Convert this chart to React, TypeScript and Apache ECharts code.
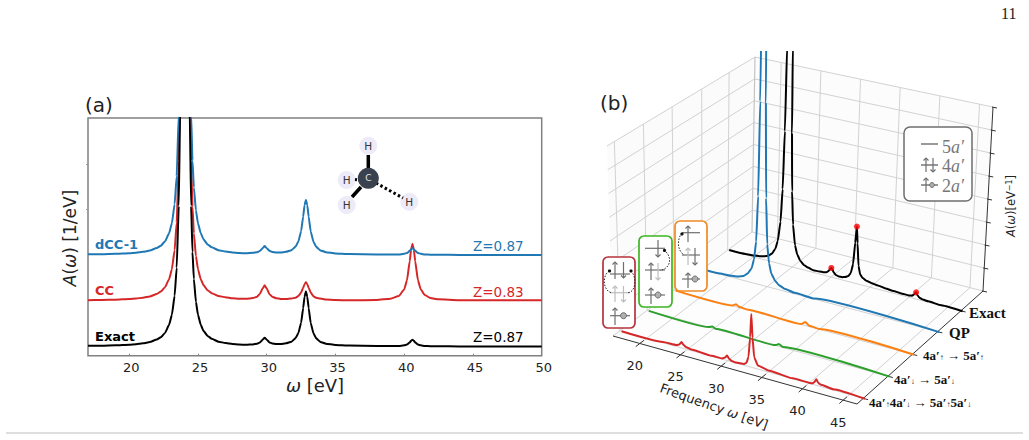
import React, { useEffect, useRef } from "react";
import * as echarts from "echarts";

// ---------- panel (a) data ----------
const omega = [17,18,19,20,20.5,21,21.5,22,22.3,22.6,22.9,23.1,23.3,23.45,23.6,23.7,23.8,24.05,24.3,24.4,24.5,24.6,24.7,24.85,25,25.2,25.4,25.7,26,26.5,27,27.5,28,28.5,29,29.3,29.5,29.7,29.85,30,30.2,30.4,30.7,31,31.4,31.8,32.1,32.3,32.5,32.65,32.75,32.85,32.95,33.05,33.2,33.4,33.6,33.9,34.3,35,36,38,39,39.6,40,40.2,40.4,40.5,40.6,40.7,40.8,41,41.2,41.5,41.9,42.5,44,50];
const exactA = [4.14,4.23,4.37,4.63,4.85,5.2,5.75,6.8,7.8,9.6,
  13,17.2,25.2,37,63,102,196,300,196,102,
  63,43.6,32.3,22.7,17.2,13,10.5,8.3,7.1,5.9,
  5.3,4.9,4.7,4.6,4.76,5.05,5.55,6.7,7.6,6.75,
  5.6,5.15,4.9,4.9,5.2,5.9,7.4,9.5,13.9,20,
  24.8,27.1,24.8,20,13.8,9.4,7.3,5.8,5.05,4.5,
  4.25,4.05,4.05,4.1,4.35,4.7,5.6,6.3,6.7,6.3,
  5.6,4.7,4.35,4.1,4,3.95,3.9,3.85];
const ccA = [23.35,23.45,23.55,23.85,24.05,24.4,24.95,25.95,27,28.8,
  32.2,36.4,44.4,56,82,121,215,320,215,121,
  82,62.8,51.5,41.9,36.4,32.2,29.7,27.5,26.3,25.1,
  24.6,24.15,24,23.95,24.25,24.85,26,28.3,29.6,28.3,
  25.9,24.8,24.15,23.9,23.85,24.05,24.4,25.1,26.55,28.55,
  30.1,30.85,30.1,28.55,26.55,25,24.35,24.05,23.6,23.4,
  23.3,23.45,23.95,25.1,27.9,31.7,39.7,44.7,47.1,44.7,
  39.7,31.7,27.9,25.5,24.3,23.7,23.35,23.3];
const dccA = [42.64,42.73,42.87,43.13,43.35,43.7,44.25,45.3,46.3,48.1,
  51.5,55.7,63.7,75.5,101.5,140,234,340,234,140,
  101.5,82.1,70.8,61.2,55.7,51.5,49,46.8,45.6,44.4,
  43.8,43.4,43.2,43.1,43.26,43.55,44.05,45.2,46.1,45.25,
  44.1,43.65,43.4,43.4,43.7,44.4,45.9,48,52.4,58.5,
  63.3,65.6,63.3,58.5,52.3,47.9,45.8,44.3,43.55,43,
  42.75,42.55,42.55,42.6,42.85,43.2,44.1,44.8,45.2,44.8,
  44.1,43.2,42.85,42.6,42.5,42.45,42.4,42.35];
const xTickLabels = [20,25,30,35,40,45,50];
const yFaintTicks = [61.7,80.6];

// ---------- panel (b) data: [frequency, amplitude] ----------
const exactB = [[16.9,.003],[19,.005],[20,.008],[20.8,.013],[21.4,.019],[21.9,.028],[22.4,.046],[22.8,.077],[23.1,.124],[23.4,.234],[23.6,.417],[23.75,.74],[23.85,1.22],[24.2,3],[24.55,1.22],[24.65,.74],[24.8,.417],[25,.234],[25.3,.124],[25.6,.077],[26,.046],[26.5,.028],[27,.019],[27.7,.012],[28.5,.014],[29,.016],[29.4,.02],[29.7,.032],[29.85,.043],[30,.05],[30.15,.043],[30.3,.03],[30.6,.018],[31,.014],[31.4,.015],[31.8,.02],[32.2,.03],[32.5,.05],[32.75,.1],[32.95,.22],[33.1,.31],[33.25,.22],[33.45,.1],[33.7,.055],[34,.04],[34.5,.03],[35.2,.024],[36,.02],[37,.015],[38,.012],[39,.01],[40,.01],[40.4,.013],[40.65,.022],[40.9,.036],[41.1,.022],[41.35,.012],[41.8,.007],[42.5,.005],[44,.002],[46.9,0]];
const qpB = [[16.9,.002],[19,.004],[20.5,.008],[21.3,.014],[22,.025],[22.5,.043],[23,.077],[23.3,.13],[23.55,.23],[23.75,.48],[23.9,1.0],[24,1.9],[24.25,3],[24.5,1.9],[24.6,1.0],[24.75,.48],[24.95,.23],[25.2,.13],[25.5,.077],[26,.043],[26.5,.025],[27.2,.014],[28.5,.006],[31,.003],[46.9,0]];
const upB = [[16.9,0],[24,.002],[24.5,.014],[24.9,.004],[26,.002],[32.7,.002],[33.2,.018],[33.7,.004],[35,.002],[46.9,0]];
const downB = [[16.9,0],[24.4,.001],[24.8,.009],[25.2,.002],[32.7,.002],[33.1,.012],[33.6,.003],[46.9,0]];
const doubleB = [[16.9,0],[22,.004],[23.7,.008],[24,.014],[24.3,.03],[24.55,.018],[24.9,.01],[25.5,.006],[28,.002],[29.3,.004],[29.65,.012],[29.9,.026],[30.15,.012],[30.5,.004],[31,.002],[32,.006],[32.3,.016],[32.55,.05],[32.75,.15],[32.9,.27],[33.05,.15],[33.25,.055],[33.7,.018],[35,.008],[38,.002],[40.4,.004],[40.65,.012],[40.9,.03],[41.15,.014],[41.5,.009],[43,.004],[46.9,0]];
const exactDots = [[30,.05],[33.1,.31],[40.9,.036]];
const freqTicks = [20,25,30,35,40,45];
const depthLevels = [0.05,0.246,0.44,0.64,0.825];
const zLevels = [0,.125,.25,.375,.5,.625,.75,.875,1];

// 3D projection, from axis values to page pixels
const F0 = 16.7, F1 = 46.7;
const A = [613,336], B = [857,404], C = [983,291], D = [752,232];
const At = [607,146], Bt = [861,199], Ct = [993,107], Dt = [755,57];
const lerp = (p: number[], q: number[], t: number) => [p[0]+(q[0]-p[0])*t, p[1]+(q[1]-p[1])*t];
function proj(f: number, d: number, z: number) {
  const t = (f-F0)/(F1-F0);
  const lo = lerp(lerp(A,B,t), lerp(D,C,t), d);
  const hi = lerp(lerp(At,Bt,t), lerp(Dt,Ct,t), d);
  return lerp(lo,hi,z);
}

const GRID = "#d2d2d2";
function segLine(a: number[], b: number[], color = GRID, width = 1, z = 1) {
  return { type: "line", xAxisIndex: 1, yAxisIndex: 1, data: [a,b], symbol: "none", silent: true, z,
    lineStyle: { color, width }, clip: false, animation: false };
}
function curve(pts: number[][], d: number, color: string, z: number) {
  return { type: "line", xAxisIndex: 1, yAxisIndex: 1, symbol: "none", z, clip: true, smooth: 0.15, smoothMonotone: "x",
    data: pts.map(([f,a]) => proj(f,d,a)), lineStyle: { color, width: 2 } };
}

// glyph helpers
const G = "#6e6e6e", L = "#bdbdbd";
const seg = (x1:number,y1:number,x2:number,y2:number,stroke=G,lineWidth=1.2,extra:any={}) =>
  ({ type:"line", z:20, shape:{x1,y1,x2,y2}, style:{stroke,lineWidth,...extra} });
const arrow = (x:number,y1:number,y2:number,stroke=G,h=2.5) => [
  seg(x,y1,x,y2,stroke),
  { type:"polyline", z:20, shape:{points:[[x-h,y2-Math.sign(y2-y1)*h],[x,y2],[x+h,y2-Math.sign(y2-y1)*h]]}, style:{stroke,lineWidth:1.2,fill:"none"} },
];
const hole = (x:number,y:number,r=3) => ({ type:"circle", z:21, shape:{cx:x,cy:y,r}, style:{fill:"#b0b0b0",stroke:G,lineWidth:1} });
const box = (x:number,y:number,width:number,height:number,stroke:string,r=5,lineWidth=1.7) =>
  ({ type:"rect", z:15, shape:{x,y,width,height,r}, style:{fill:"#fff",stroke,lineWidth} });
const dotted = (x1:number,y1:number,c1:number[],c2:number[],x2:number,y2:number) =>
  ({ type:"bezierCurve", z:22, shape:{x1,y1,x2,y2,cpx1:c1[0],cpy1:c1[1],cpx2:c2[0],cpy2:c2[1]}, style:{stroke:"#222",lineWidth:1,lineDash:[1.5,1.5],fill:"none"} });
const head = (x:number,y:number) => ({ type:"circle", z:22, shape:{cx:x,cy:y,r:1.6}, style:{fill:"#111"} });
const txt = (text:string,x:number,y:number,fontSize:number,fill:string,extra:any={}) => {
  const { rotation, z, ...style } = extra;
  return { type:"text", x, y, rotation: rotation||0, z: z||30,
    style:{ text, fontSize, fill, fontFamily:"DejaVu Sans", align:"left", verticalAlign:"middle", ...style } };
};
const SERIF = "Liberation Serif";
const subRich = {
  b:{ fontFamily:SERIF, fontWeight:"bold", fontSize:13, fill:"#111" },
  s:{ fontFamily:SERIF, fontWeight:"bold", fontSize:8, fill:"#111", verticalAlign:"bottom", padding:[5,0,0,0] },
};
const LINE_A = 2;
const smoothA = { symbol:"none", smooth:0.15, smoothMonotone:"x" };

function buildOption() {
  const series: any[] = [
    { type:"line", data: omega.map((x,i)=>[x,ccA[i]]), ...smoothA, lineStyle:{color:"#d62728",width:LINE_A}, z:3 },
    { type:"line", data: omega.map((x,i)=>[x,dccA[i]]), ...smoothA, lineStyle:{color:"#1f77b4",width:LINE_A}, z:4 },
    { type:"line", data: omega.map((x,i)=>[x,exactA[i]]), ...smoothA, lineStyle:{color:"#000",width:LINE_A}, z:5 },
  ];
  // panes' grid lines
  for (const z of zLevels) {
    series.push(segLine(proj(F0,1,z), proj(F1,1,z)));
    series.push(segLine(proj(F0,0,z), proj(F0,1,z)));
  }
  for (const f of freqTicks) {
    series.push(segLine(proj(f,1,0), proj(f,1,1)));
    series.push(segLine(proj(f,0,0), proj(f,1,0)));
  }
  for (const d of depthLevels) {
    series.push(segLine(proj(F0,d,0), proj(F0,d,1)));
    series.push(segLine(proj(F0,d,0), proj(F1,d,0)));
  }
  series.push(segLine(proj(F0,1,0), proj(F0,1,1), "#c4c4c4", 1.2));
  // axes of the box
  series.push(segLine(proj(F0,0,0), proj(F1,0,0), "#333", 1, 2));
  series.push(segLine(proj(F1,0,0), proj(F1,1,0), "#333", 1, 2));
  series.push(segLine(proj(F1,1,0), proj(F1,1,1), "#333", 1, 2));
  for (const f of freqTicks) series.push(segLine(proj(f,-0.03,0), proj(f,0.03,0), "#333", 1, 2));
  for (const d of depthLevels) series.push(segLine(proj(F1,d,0), proj(F1+0.6,d,0), "#333", 1, 2));
  for (const z of zLevels) {
    const p = proj(F1,1,z);
    series.push(segLine([p[0]-1,p[1]], [p[0]+4,p[1]+1], "#333", 1, 2));
  }
  // curves back to front
  series.push(curve(exactB, depthLevels[4], "#000", 6));
  series.push(curve(qpB, depthLevels[3], "#1f77b4", 7));
  series.push(curve(upB, depthLevels[2], "#ff7f0e", 8));
  series.push(curve(downB, depthLevels[1], "#2ca02c", 9));
  series.push(curve(doubleB, depthLevels[0], "#d62728", 10));
  series.push({ type:"scatter", xAxisIndex:1, yAxisIndex:1, z:11, symbolSize:6,
    itemStyle:{color:"#ff0000"}, data: exactDots.map(([f,a])=>proj(f,depthLevels[4],a)) });

  const floorPts = [A,B,C,D];
  const graphic: any[] = [
    { type:"polygon", z:0, shape:{points:[A,D,Dt,At]}, style:{fill:"#fbfbfb"} },
    { type:"polygon", z:0, shape:{points:[D,C,Ct,Dt]}, style:{fill:"#fcfcfc"} },
    { type:"polygon", z:0, shape:{points:floorPts}, style:{fill:"#fdfdfd"} },
    // page furniture
    txt("11", 1001, 13, 16, "#222", { fontFamily:SERIF }),
    seg(6,433,1023,433,"#bdbdbd",1.2),
    // panel (a) texts
    txt("(a)", 85, 105, 20, "#222"),
    txt("{i|ω} [eV]", 315, 385, 18, "#222", { align:"center", rich:{ i:{ fontStyle:"italic", fontSize:18, fill:"#222", fontFamily:"DejaVu Sans" } } }),
    txt("{i|A}({i|ω}) [1/eV]", 70, 238, 17, "#222", { align:"center", rotation:Math.PI/2, rich:{ i:{ fontStyle:"italic", fontSize:17, fill:"#222", fontFamily:"DejaVu Sans" } } }),
    txt("dCC-1", 95, 244, 13, "#1f77b4", { fontWeight:"bold" }),
    txt("CC", 95, 290, 13, "#d62728", { fontWeight:"bold" }),
    txt("Exact", 95, 336, 13, "#000", { fontWeight:"bold" }),
    txt("Z=0.87", 473, 246, 13.5, "#1f77b4"),
    txt("Z=0.83", 473, 292, 13.5, "#d62728"),
    txt("Z=0.87", 473, 337, 13.5, "#000"),
    // molecule
    seg(361,187,352,197,"#000",3.5),
    seg(376,183,403,198,"#000",3,{lineDash:[2.5,2.5]}),
    seg(355,179.5,360,180,"#000",3,{lineDash:[2,1.5]}),
    ...[[368.3,145.7],[346.7,180],[346.7,205],[409.3,201.7]].flatMap(([x,y]) => [
      { type:"circle", z:19, shape:{cx:x,cy:y,r:9}, style:{fill:"#edebf7"} },
      txt("H", x, y, 10.5, "#333", { align:"center", z:23 }),
    ]),
    seg(368.3,155,368.3,170,"#000",3.5),
    { type:"circle", z:21, shape:{cx:368.3,cy:178.3,r:10.5}, style:{fill:"#39424e"} },
    txt("C", 368.3, 178.3, 9, "#e6e6e6", { align:"center", z:23 }),
    // panel (b) texts
    txt("(b)", 600, 103, 20, "#222"),
    ...freqTicks.map(t => { const p = proj(t,0,0); return txt(String(t), p[0]-5, p[1]+22, 13, "#222", { align:"center" }); }),
    txt("Frequency {i|ω} [eV]", 714, 406.5, 13, "#222", { align:"center", rotation:-0.34, rich:{ i:{ fontStyle:"italic", fontSize:13, fill:"#222", fontFamily:"DejaVu Sans" } } }),
    txt("{i|A}({i|ω})[eV{s|−1}]", 1011, 206, 11.5, "#222", { align:"center", rotation:Math.PI/2, rich:{
      i:{ fontStyle:"italic", fontSize:11.5, fill:"#222", fontFamily:"DejaVu Sans" },
      s:{ fontSize:8, fill:"#222", fontFamily:"DejaVu Sans", verticalAlign:"top" } } }),
    txt("Exact", 969, 313, 15, "#111", { fontFamily:SERIF, fontWeight:"bold" }),
    txt("QP", 949, 333, 15, "#111", { fontFamily:SERIF, fontWeight:"bold" }),
    txt("{b|4a′}{s|↑}{b| → 5a′}{s|↑}", 923, 355, 13, "#111", { rich:subRich }),
    txt("{b|4a′}{s|↓}{b| → 5a′}{s|↓}", 894, 379, 13, "#111", { rich:subRich }),
    txt("{b|4a′}{s|↑}{b|4a′}{s|↓}{b| → 5a′}{s|↑}{b|5a′}{s|↓}", 869, 402, 13, "#111", { rich:subRich }),
    // legend of orbitals
    box(904,127,68,74,"#6e6e6e",6,1.5),
    seg(921,144,938,144,G,1.4),
    seg(921,165,938,165,G,1.4), ...arrow(926,172,158), ...arrow(933,158,172),
    seg(921,185,938,185,G,1.4), ...arrow(926,192,178), hole(932,185,2.4),
    ...[["5",147],["4",166],["2",186]].map(([n,y]) =>
      txt(`{n|${n}}{i|a′}`, 942, y as number, 18, "#777", { rich:{
        n:{ fontFamily:SERIF, fontSize:18, fill:"#777" },
        i:{ fontFamily:SERIF, fontSize:18, fill:"#777", fontStyle:"italic" } } })),
    // excitation: double
    box(603,257,32,71,"#b5333b"),
    seg(610,274,630,274), ...arrow(615,279,262), ...arrow(623.5,262,278),
    seg(610,292.7,630,292.7,L), ...arrow(615,302,286,L), ...arrow(623.5,286,302,L),
    seg(610,315.7,630,315.7), ...arrow(615,325,308), hole(623.5,315.7),
    dotted(609,271,[601,277],[604,292],612,292.7),
    dotted(631,271,[637,277],[636,292],628,292.7),
    head(609.5,271), head(631,271),
    // excitation: down
    box(639,236,33,71,"#3cb521"),
    seg(645,248.3,665,248.3), ...arrow(658,240,257),
    seg(645,270,665,270), ...arrow(651,280,263), ...arrow(658,263,280,L),
    seg(645,295,665,295), ...arrow(651,304,288), hole(658,295),
    dotted(664,250,[672,256],[672,268],660,270.5),
    head(664.5,250.5),
    // excitation: up
    box(675,221,32,70,"#f08a24"),
    seg(682,232.7,700,232.7), ...arrow(688,242,226),
    seg(682,255,700,255), ...arrow(688,265,248,L), ...arrow(695,248,265),
    seg(682,279,700,279), ...arrow(688,288,273), hole(695,279),
    dotted(681.7,233,[677,240],[677,250],684,255),
    head(682,234),
  ];

  return {
    animation: false,
    backgroundColor: "#fff",
    grid: [
      { left: 88, top: 118, width: 453.7, height: 237.7, show: true, borderColor: "#808080", borderWidth: 1.5, backgroundColor: "transparent" },
      { left: 600, right: 0, top: 52, bottom: 0 },
    ],
    xAxis: [
      { type:"value", gridIndex:0, min:17, max:50,
        axisLine:{show:false}, axisTick:{show:true, inside:true, length:2, customValues:xTickLabels, lineStyle:{color:"#808080"}}, splitLine:{show:false},
        axisLabel:{ customValues:xTickLabels, color:"#222", fontSize:13, fontFamily:"DejaVu Sans", margin:5, showMaxLabel:true, hideOverlap:false, padding:[0,0,0,4] } },
      { type:"value", gridIndex:1, min:600, max:1029, show:false },
    ],
    yAxis: [
      { type:"value", gridIndex:0, min:0, max:100,
        axisLine:{show:false}, splitLine:{show:false}, axisLabel:{show:false},
        axisTick:{ show:true, length:2, customValues:yFaintTicks, lineStyle:{color:"#999"} } },
      { type:"value", gridIndex:1, min:52, max:440, inverse:true, show:false },
    ],
    series,
    graphic: { elements: graphic },
  };
}

export default function App() {
  const ref = useRef<HTMLDivElement>(null);
  useEffect(() => {
    document.body.style.margin = "0";
    const chart = echarts.init(ref.current!, undefined, { renderer: "svg" });
    chart.setOption(buildOption() as any);
    return () => chart.dispose();
  }, []);
  return <div ref={ref} style={{ position:"absolute", left:0, top:0, width:1029, height:440 }} />;
}
